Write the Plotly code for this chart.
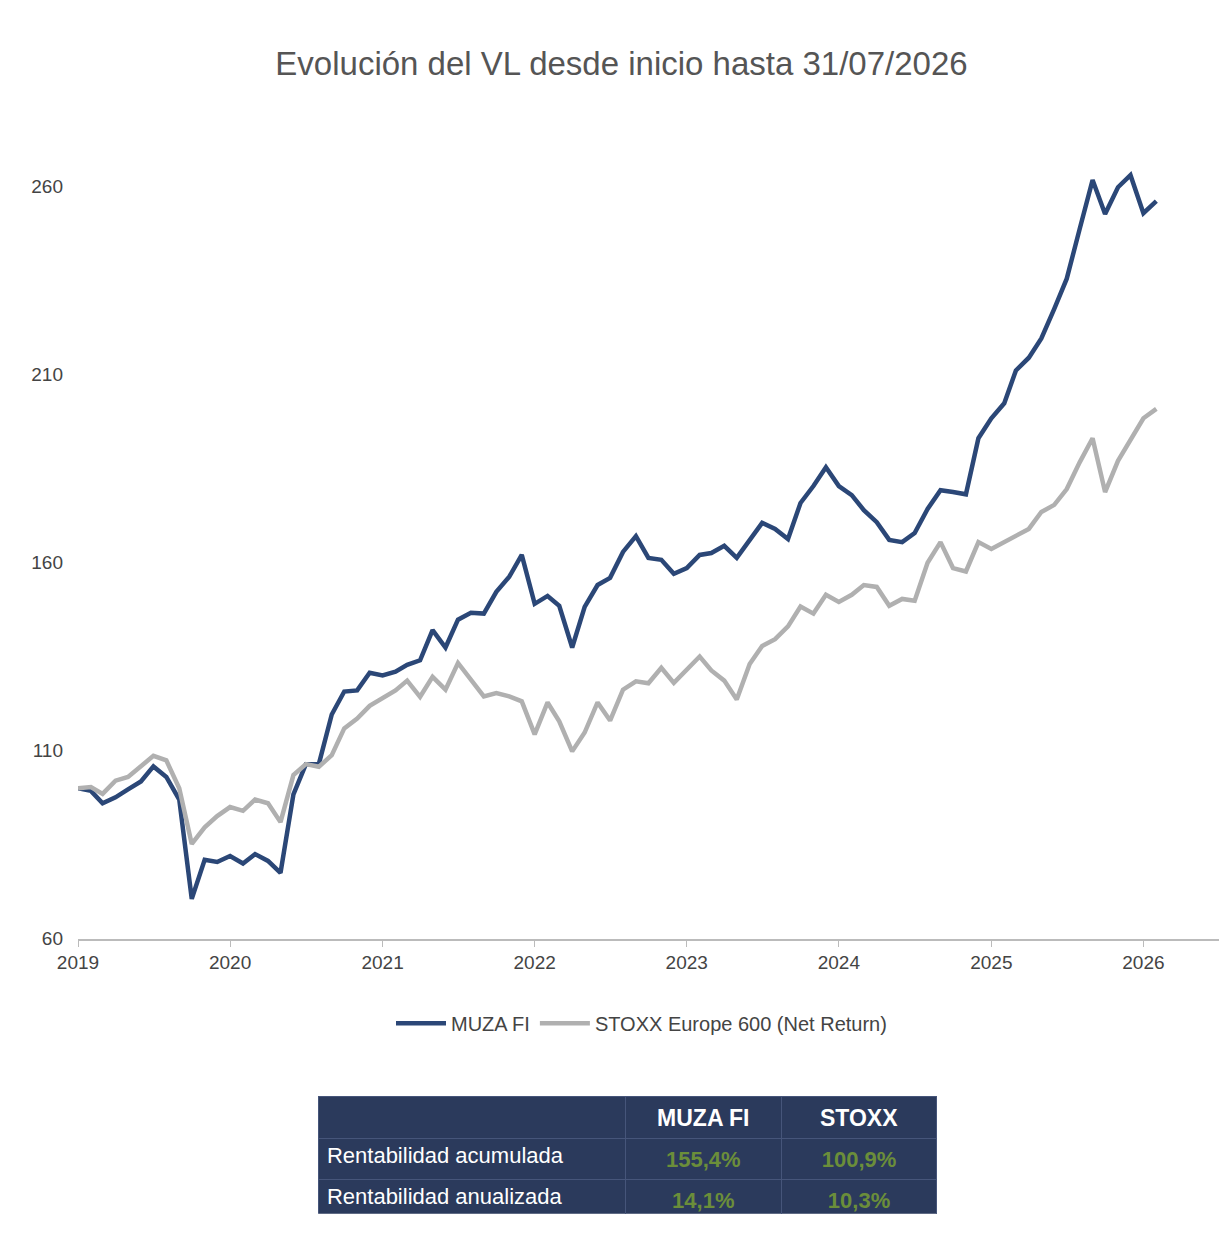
import pandas as pd
import plotly.graph_objects as go

dates = pd.date_range("2019-01-01", periods=86, freq="MS")

muza = [100, 99.3, 96, 97.6, 99.7, 101.8, 105.8, 103, 97, 70.6, 81, 80.4,
        82, 80, 82.5, 80.7, 77.5, 98.4, 106.4, 106.4, 119.6, 125.7, 126, 130.7,
        130, 131, 132.8, 134, 142, 137.4, 144.8, 146.6, 146.4, 152.2, 156.2, 162,
        149, 151.1, 148.5, 137.4, 148.2, 154, 155.9, 162.8, 167, 161.2, 160.7, 157,
        158.5, 162, 162.5, 164.4, 161.2, 166, 170.5, 168.9, 166.2, 175.8, 180.3, 185.3,
        180.3, 177.9, 173.9, 170.7, 166, 165.4, 167.8, 174.2, 179.2, 178.7, 178.1, 193,
        198.3, 202.3, 211, 214.4, 219.5, 227.4, 235.4, 248.6, 261.6, 252.6, 259.7, 262.9,
        252.8, 256]

stoxx = [100, 100.3, 98.5, 102, 103, 106, 108.6, 107.4, 100, 85.2, 89.6, 92.6,
         95, 94, 97, 96, 91, 103.5, 106.4, 105.7, 108.8, 115.9, 118.5, 121.9,
         123.9, 126, 128.6, 124.3, 129.6, 126.2, 133.3, 128.7, 124.4, 125.3, 124.4, 123.1,
         114.3, 122.8, 117.8, 109.8, 114.8, 122.8, 118, 126.2, 128.4, 127.9, 132, 128,
         131.6, 135, 131.3, 128.6, 123.6, 133, 137.8, 139.6, 143, 148.3, 146.4, 151.4,
         149.5, 151.4, 154, 153.5, 148.5, 150.3, 149.8, 159.9, 165.4, 158.5, 157.6, 165.4,
         163.6, 165.4, 167, 168.9, 173.4, 175.3, 179.5, 186.6, 193, 178.7, 187, 192.6,
         198.3, 200.8]

table_rows = ["Rentabilidad acumulada", "Rentabilidad anualizada"]
table_muza = ["<b>155,4%</b>", "<b>14,1%</b>"]
table_stoxx = ["<b>100,9%</b>", "<b>10,3%</b>"]

fig = go.Figure()
fig.add_trace(go.Scatter(x=dates, y=muza, mode="lines", name="MUZA FI",
                         line=dict(color="#2b4777", width=4.5)))
fig.add_trace(go.Scatter(x=dates, y=stoxx, mode="lines", name="STOXX Europe 600 (Net Return)",
                         line=dict(color="#b0b0b0", width=4.5)))

navy = "#2b3a5c"
fig.add_trace(go.Table(
    domain=dict(x=[0.2095, 0.7475], y=[0.025, 0.127]),
    columnwidth=[305, 155, 155],
    header=dict(values=["", "<b>MUZA FI</b>", "<b>STOXX</b>"],
                fill_color=navy, line_color="#46557a", height=39,
                font=dict(color="white", size=23, family="Arial"), align="center"),
    cells=dict(values=[table_rows, table_muza, table_stoxx],
               fill_color=navy, line_color="#46557a", height=39,
               font=dict(color=[["white"] * 2, ["#6b8e3a"] * 2, ["#6b8e3a"] * 2],
                         size=22, family="Arial"),
               align=["left", "center", "center"]),
))

fig.update_layout(
    width=1227, height=1246,
    paper_bgcolor="white", plot_bgcolor="white",
    margin=dict(l=70, r=7, t=84, b=0),
    font=dict(family="Arial", color="#444"),
    title=dict(text="Evolución del VL desde inicio hasta 31/07/2026", x=0.5, y=0.965,
               xanchor="center", font=dict(size=33, color="#555")),
    showlegend=True,
    legend=dict(orientation="h", x=0.49, xanchor="center", y=0.191, yanchor="middle",
                font=dict(size=20, color="#444"), itemwidth=50),
    xaxis=dict(range=["2019-01-01", "2026-07-23"], dtick="M12", tickformat="%Y",
               showgrid=False, showline=True, linecolor="#bbb", linewidth=1.5,
               ticks="outside", tickcolor="#bbb", ticklen=6,
               tickfont=dict(size=19, color="#444"), zeroline=False),
    yaxis=dict(range=[60, 285], tickvals=[60, 110, 160, 210, 260], showgrid=False,
               showline=False, zeroline=False, domain=[0.2643, 1],
               tickfont=dict(size=19, color="#444"), ticklabelstandoff=14),
)

fig.write_html("out.html")
